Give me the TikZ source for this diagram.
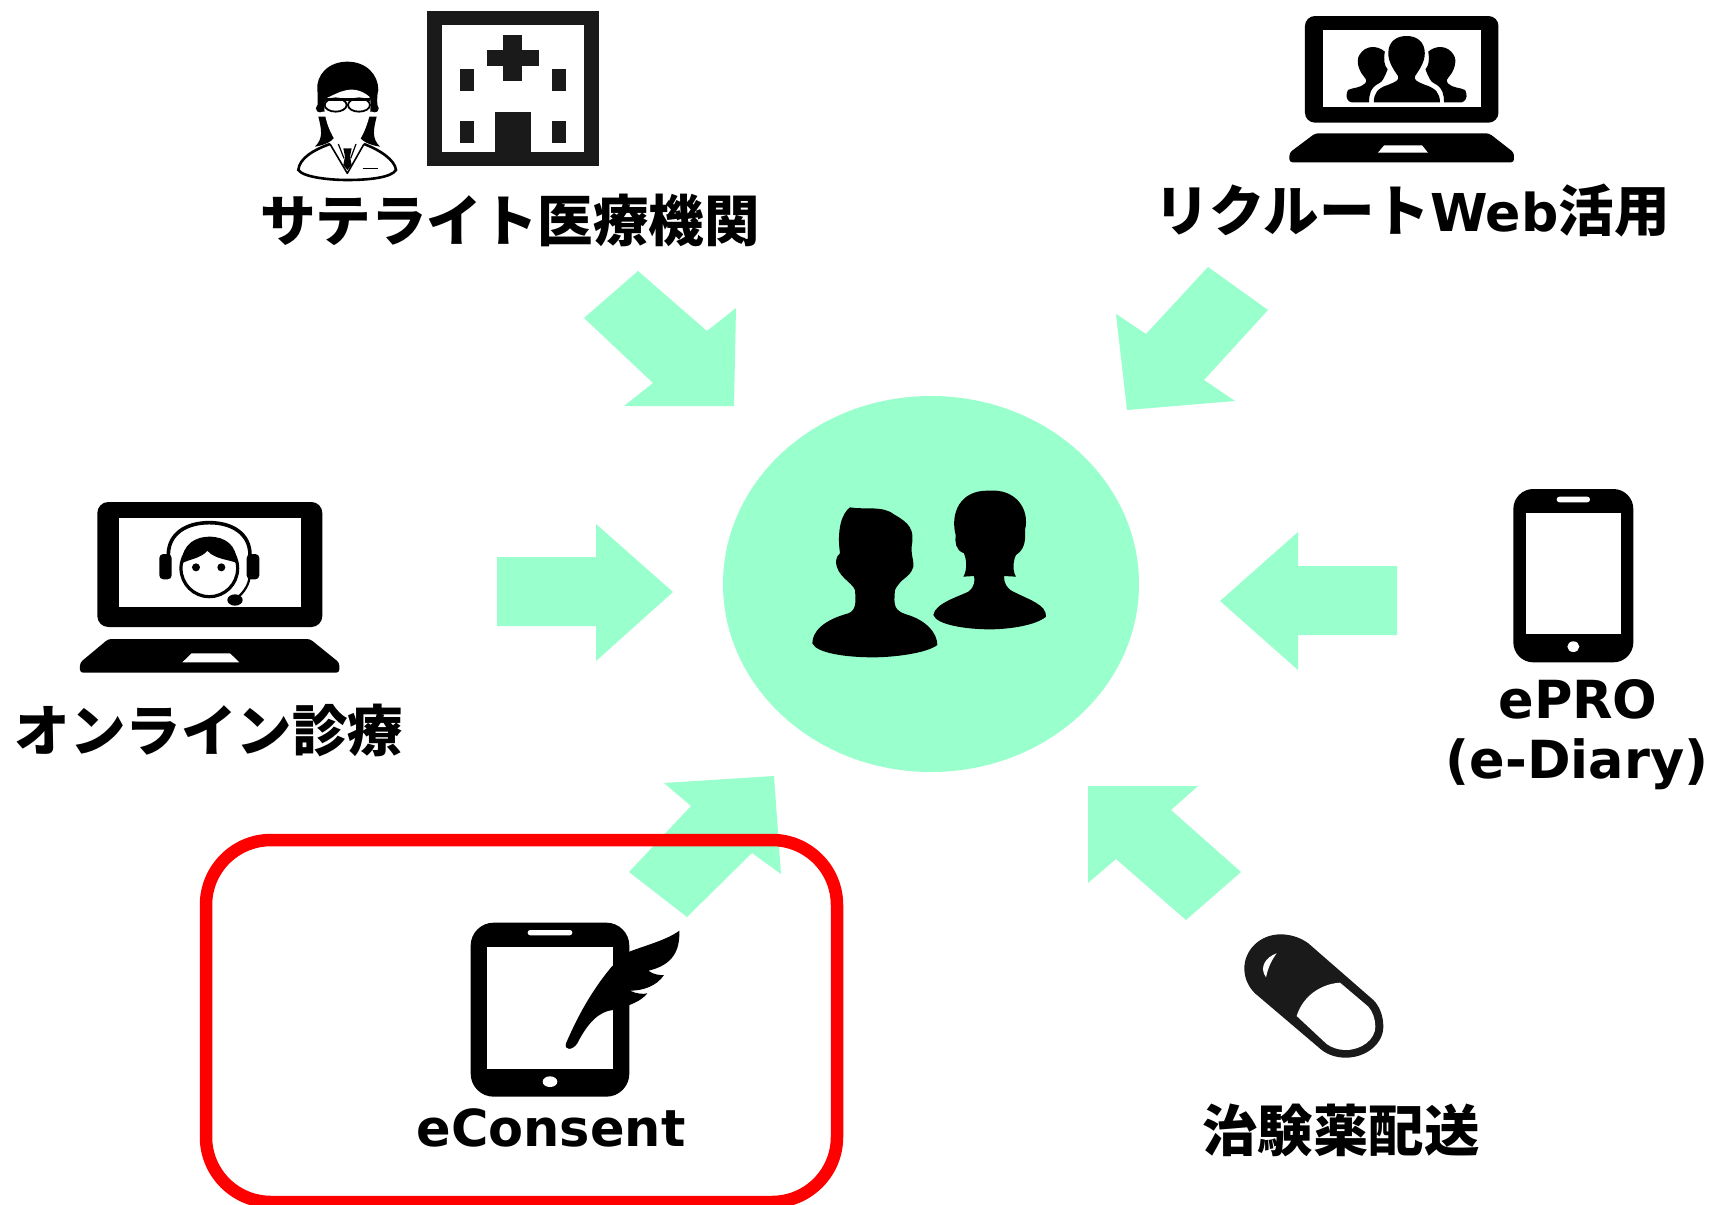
\documentclass[tikz,border=0pt]{standalone}
\usepackage{fontspec}
\setmainfont{DejaVu Sans}
\newfontfamily\cjk{Noto Sans CJK JP}
\definecolor{mint}{HTML}{99FFCC}
\definecolor{ink}{HTML}{1A1A1A}
\tikzset{
  blockarrow/.style={fill=mint,draw=none},
  solid ink/.style={fill=black,draw=none},
  dark ink/.style={fill=ink,draw=none},
  blank/.style={fill=white,draw=none},
  jplabel/.style={anchor=base,inner sep=0pt,font=\cjk\bfseries\fontsize{55.5}{60}\selectfont,text=black},
  enlabel/.style={anchor=base,inner sep=0pt,font=\bfseries\fontsize{52.5}{60}\selectfont,text=black},
  zoomed/.style={x=0.33333pt,y=-0.33333pt}
}
\begin{document}
\begin{tikzpicture}[x=1pt,y=-1pt]
\useasboundingbox (0,0) rectangle (1714,1205);
\fill[white] (0,0) rectangle (1714,1205);

% centre disc
\fill[mint] (931,584) ellipse [x radius=208,y radius=188];

% block arrows
\fill[blockarrow] (638,271)--(707,331)--(736,308)--(734,406)--(624,406)--(653,383)--(584,318)--cycle;
\fill[blockarrow] (1208,267)--(1268,310)--(1204,380)--(1235,401)--(1127,410)--(1116,314)--(1146,334)--cycle;
\fill[blockarrow] (497,557)--(596,557)--(596,524)--(673,592)--(596,661)--(596,626)--(497,626)--cycle;
\fill[blockarrow] (1397,566)--(1298,566)--(1298,532)--(1220,601)--(1298,670)--(1298,635)--(1397,635)--cycle;
\fill[blockarrow] (1088,786)--(1198,786)--(1171,810)--(1241,872)--(1186,920)--(1116,859)--(1088,883)--cycle;
\fill[blockarrow] (664,783)--(774,776)--(781,874)--(752,853)--(687,917)--(629,872)--(691,806)--cycle;

% two people in the disc
\begin{scope}[shift={(780,470)},zoomed]
\fill[solid ink] (97,520) .. controls (97,485) and (130,450) .. (205,430) .. controls (228,420) and (228,400) .. (225,360) .. controls (215,335) and (170,320) .. (168,275) .. controls (170,258) and (175,255) .. (180,250) .. controls (170,180) and (185,130) .. (210,112) .. controls (250,120) and (310,105) .. (345,135) .. controls (390,160) and (400,180) .. (397,215) .. controls (390,255) and (402,265) .. (400,290) .. controls (390,325) and (365,320) .. (345,360) .. controls (340,410) and (345,420) .. (375,432) .. controls (440,450) and (472,490) .. (472,525) .. controls (440,550) and (340,562) .. (280,562) .. controls (200,562) and (110,550) .. (97,520) -- cycle;
\fill[solid ink] (460,435) .. controls (465,400) and (535,380) .. (565,365) .. controls (585,350) and (585,330) .. (582,318) -- (550,320) .. controls (562,300) and (560,270) .. (552,250) .. controls (525,240) and (525,215) .. (527,195) .. controls (510,130) and (540,60) .. (625,62) .. controls (710,55) and (750,120) .. (735,180) .. controls (738,220) and (730,240) .. (708,255) .. controls (698,275) and (698,305) .. (708,320) -- (672,318) .. controls (672,340) and (680,355) .. (700,365) .. controls (750,390) and (800,405) .. (798,440) .. controls (770,465) and (690,478) .. (630,478) .. controls (560,478) and (470,465) .. (460,435) -- cycle;
\end{scope}

% hospital and doctor
\begin{scope}[shift={(270,0)},zoomed]
\fill[dark ink] (470,33) rectangle (988,498);
\fill[blank] (517,75) rectangle (941,456);
\fill[dark ink] (700,105) rectangle (757,244);
\fill[dark ink] (651,150) rectangle (806,199);
\fill[dark ink] (570,208) rectangle (611,274);
\fill[dark ink] (847,208) rectangle (888,274);
\fill[dark ink] (570,364) rectangle (611,430);
\fill[dark ink] (847,364) rectangle (888,430);
\fill[dark ink] (676,336) rectangle (782,456);
% coat
\draw[black,line width=2.6pt,fill=white] (180,432) .. controls (130,450) and (88,475) .. (85,510) .. controls (100,532) and (180,540) .. (232,540) .. controls (300,540) and (365,532) .. (378,510) .. controls (375,480) and (330,450) .. (282,432);
\draw[black,line width=1.6pt,line join=round] (180,432) -- (232,520) -- (282,432);
\draw[black,line width=1.2pt] (205,432) -- (222,475);
\draw[black,line width=1.2pt] (258,432) -- (242,475);
\fill[solid ink] (220,445) -- (245,445) -- (240,470) -- (245,495) -- (232,510) -- (220,495) -- (225,470) -- cycle;
\draw[black,line width=1.6pt] (278,505) -- (325,505);
% hair
\fill[solid ink] (232,185) .. controls (175,185) and (138,225) .. (142,270) .. controls (145,295) and (140,320) .. (145,350) .. controls (155,390) and (160,415) .. (135,440) .. controls (165,435) and (190,425) .. (200,400) -- (262,400) .. controls (272,425) and (300,435) .. (330,440) .. controls (305,415) and (310,390) .. (320,350) .. controls (325,320) and (318,295) .. (325,270) .. controls (325,225) and (290,185) .. (232,185) -- cycle;
% face
\fill[blank] (168,295) .. controls (195,285) and (245,245) .. (298,290) .. controls (312,330) and (285,395) .. (270,418) -- (232,445) -- (194,418) .. controls (178,395) and (152,330) .. (168,295) -- cycle;
\fill[blank] (140,335) -- (170,335) -- (170,350) -- (142,350) -- cycle;
\fill[blank] (294,335) -- (324,335) -- (322,350) -- (294,350) -- cycle;
\draw[black,line width=1.8pt] (197,315) ellipse [x radius=33,y radius=20];
\draw[black,line width=1.8pt] (267,315) ellipse [x radius=33,y radius=20];
\draw[black,line width=3.6pt] (163,299) -- (301,299);
\draw[black,line width=2pt] (150,325) circle [radius=9];
\draw[black,line width=2pt] (314,325) circle [radius=9];
\end{scope}

% laptop with audience
\begin{scope}[shift={(1150,0)},x=0.34435pt,y=-0.33333pt]
\fill[solid ink,rounded corners=10pt] (450,48) rectangle (1012,368);
\fill[blank] (501,91) rectangle (960,321);
\fill[solid ink,rounded corners=3pt] (480,400) -- (985,400) -- (1057,458) -- (1057,487) -- (405,487) -- (405,458) -- cycle;
\fill[blank] (680,436) -- (790,436) -- (807,458) -- (662,458) -- cycle;
\fill[solid ink] (650,307) .. controls (650,280) and (660,265) .. (690,255) .. controls (715,245) and (725,240) .. (720,228) .. controls (705,205) and (692,185) .. (692,160) .. controls (692,125) and (715,108) .. (745,108) .. controls (775,108) and (798,125) .. (798,160) .. controls (798,185) and (785,205) .. (770,228) .. controls (765,240) and (775,245) .. (800,255) .. controls (830,265) and (842,280) .. (842,307) -- cycle;
\fill[solid ink] (636,307) -- (585,307) .. controls (565,300) and (570,280) .. (575,270) .. controls (590,262) and (610,265) .. (625,250) .. controls (632,240) and (625,235) .. (620,228) .. controls (605,210) and (598,180) .. (608,165) .. controls (625,135) and (660,135) .. (682,155) .. controls (678,180) and (680,195) .. (690,208) .. controls (680,235) and (675,245) .. (665,250) .. controls (640,262) and (636,285) .. (636,307) -- cycle;
\fill[solid ink] (854,307) -- (905,307) .. controls (925,300) and (920,280) .. (915,270) .. controls (900,262) and (880,265) .. (865,250) .. controls (858,240) and (865,235) .. (870,228) .. controls (885,210) and (892,180) .. (882,165) .. controls (865,135) and (830,135) .. (808,155) .. controls (812,180) and (810,195) .. (800,208) .. controls (810,235) and (815,245) .. (825,250) .. controls (850,262) and (854,285) .. (854,307) -- cycle;
\end{scope}

% laptop with headset
\begin{scope}[shift={(0,480)},zoomed]
\fill[solid ink,rounded corners=11pt] (292,66) rectangle (967,441);
\fill[blank] (357,114) rectangle (902,382);
\fill[solid ink,rounded corners=3pt] (325,477) -- (930,477) -- (1018,548) -- (1018,578) -- (240,578) -- (240,548) -- cycle;
\fill[blank] (575,520) -- (690,520) -- (718,547) -- (547,547) -- cycle;
\draw[black,line width=3.2pt] (628,265) circle [radius=85];
\fill[solid ink] (546,250) .. controls (545,190) and (590,170) .. (628,170) .. controls (675,170) and (712,195) .. (710,250) .. controls (700,240) and (645,240) .. (622,212) .. controls (605,235) and (560,240) .. (546,250) -- cycle;
\draw[black,line width=3.6pt] (505,225) .. controls (505,160) and (560,128) .. (628,128) .. controls (695,128) and (750,160) .. (750,225);
\fill[solid ink,rounded corners=4pt] (478,222) rectangle (515,298);
\fill[solid ink,rounded corners=4pt] (740,222) rectangle (778,298);
\draw[black,line width=2.2pt] (748,295) .. controls (745,320) and (725,345) .. (705,358);
\fill[solid ink] (705,360) ellipse [x radius=23,y radius=17];
\fill[solid ink] (588,262) circle [radius=12];
\fill[solid ink] (664,262) circle [radius=12];
\end{scope}

% ePRO phone
\begin{scope}[shift={(1430,470)},zoomed]
\fill[solid ink,rounded corners=20pt] (250,57) rectangle (610,577);
\fill[blank] (288,130) rectangle (574,492);
\fill[blank,rounded corners=2.8pt] (380,80) rectangle (480,97);
\fill[blank] (430,530) ellipse [x radius=18,y radius=16];
\end{scope}

% eConsent tablet and feather
\begin{scope}[shift={(440,900)},zoomed]
\fill[solid ink,rounded corners=23pt] (92,68) rectangle (568,590);
\fill[blank] (141,141) rectangle (518,507);
\fill[blank,rounded corners=2.6pt] (263,90) rectangle (397,106);
\fill[blank] (330,545) ellipse [x radius=22,y radius=16];
\fill[solid ink] (378,430) .. controls (400,380) and (440,290) .. (515,200) -- (568,155) .. controls (620,135) and (680,120) .. (718,92) .. controls (720,150) and (700,195) .. (625,212) .. controls (640,224) and (660,226) .. (672,225) .. controls (650,258) and (610,272) .. (570,272) .. controls (590,282) and (610,283) .. (622,280) .. controls (605,302) and (570,318) .. (518,330) .. controls (478,335) and (445,365) .. (412,430) .. controls (397,452) and (372,452) .. (378,430) -- cycle;
\end{scope}

% capsule
\begin{scope}[shift={(1180,900)},zoomed]
\fill[dark ink] (302,103) .. controls (335,103) and (365,115) .. (385,130) -- (580,300) .. controls (600,320) and (610,350) .. (610,380) .. controls (610,430) and (560,473) .. (497,473) .. controls (470,473) and (445,465) .. (425,450) -- (225,280) .. controls (205,260) and (193,235) .. (193,205) .. controls (193,150) and (240,103) .. (302,103) -- cycle;
\fill[blank] (350,348) .. controls (368,290) and (420,252) .. (480,248) -- (565,320) .. controls (578,335) and (586,357) .. (586,380) .. controls (586,418) and (545,450) .. (497,450) .. controls (475,450) and (455,443) .. (440,432) -- cycle;
\fill[blank] (290,160) .. controls (260,170) and (235,200) .. (258,232) .. controls (265,200) and (275,180) .. (290,160) -- cycle;
\end{scope}

% highlight frame
\draw[red,line width=12.5pt,rounded corners=65pt] (206,840) rectangle (837,1202);

% labels
\node[jplabel] (satellite) at (510,241) {サテライト医療機関};
\node[jplabel] (recruit) at (1412,231) {リクルート{\fontspec{DejaVu Sans}[Scale=0.94]\bfseries Web}活用};
\node[jplabel] (online) at (209,751) {オンライン診療};
\node[jplabel] (delivery) at (1341,1151) {治験薬配送};
\node[enlabel] (epro) at (1578,718) {ePRO};
\node[enlabel] (ediary) at (1577,778) {(e-Diary)};
\node[enlabel,font=\bfseries\fontsize{51}{60}\selectfont] (econsent) at (551,1146) {eConsent};
\end{tikzpicture}
\end{document}
